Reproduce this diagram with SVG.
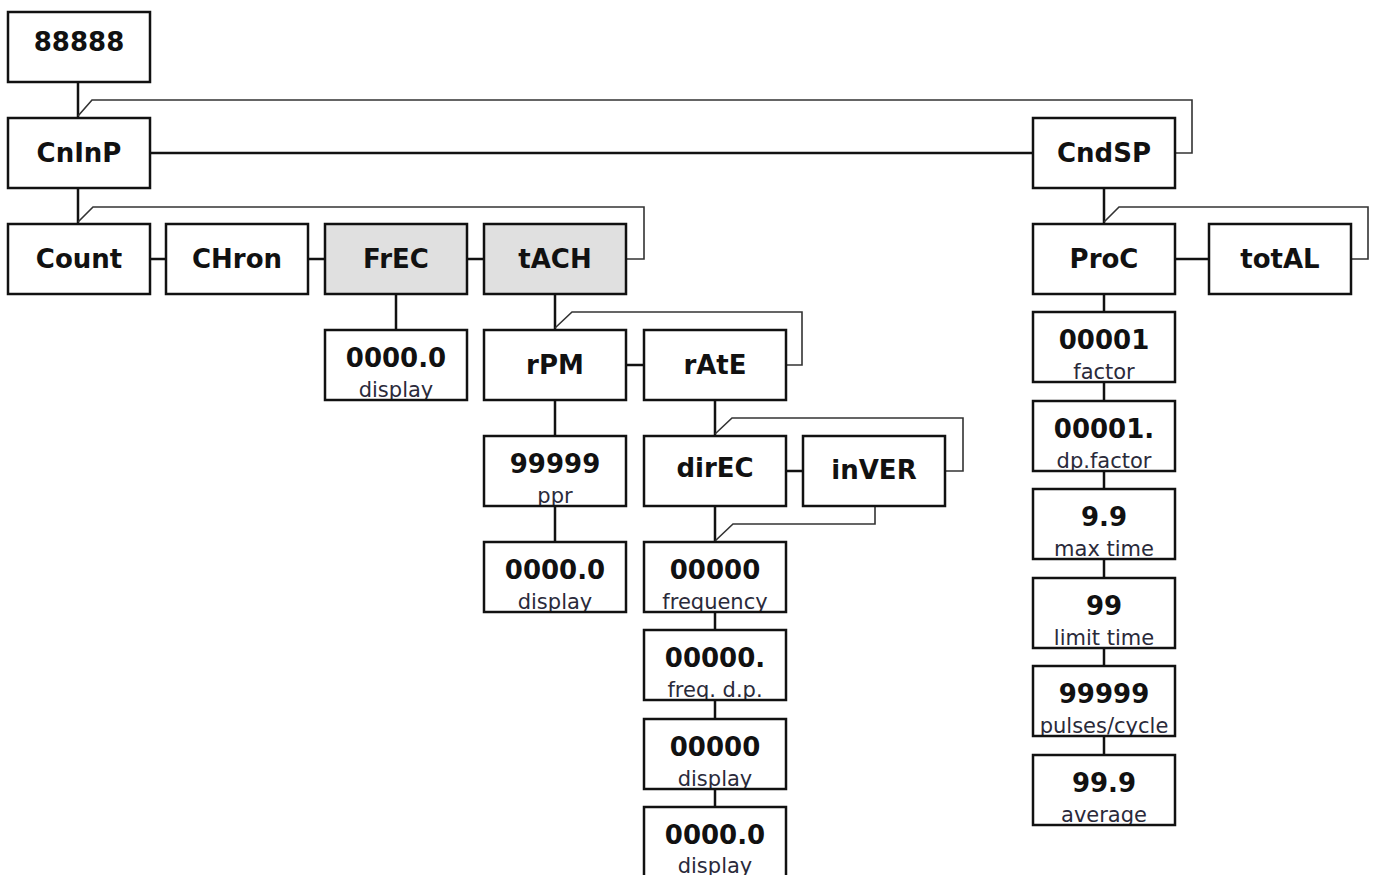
<svg xmlns="http://www.w3.org/2000/svg" width="1375" height="875" viewBox="0 0 1375 875">
<style>
.box{fill:#fff;stroke:#111;stroke-width:2.5}
.grey{fill:#e0e0e0}
.lbl{font-family:"DejaVu Sans",Verdana,sans-serif;font-weight:bold;font-size:26px;fill:#111;text-anchor:middle}
.sub{font-family:"DejaVu Sans",Verdana,sans-serif;font-size:21px;fill:#2a2a3a;text-anchor:middle}
.main{stroke:#111;stroke-width:2.5;fill:none}
.ret{stroke:#333;stroke-width:1.6;fill:none}
.frame{fill:none;stroke:#111;stroke-width:2.5}
</style>
<rect width="1375" height="875" fill="#fff"/>
<g id="connectors">
<path class="main" d="M78 82V118M150 153H1033M78 188V224M150 259H166M308 259H325M467 259H484M396 294V330M555 294V330M626 365H644M555 400V436M555 506V542M715 400V436M786 471H803M715 506V542M715 612V630M715 700V719M715 789V807M1104 188V224M1175 259H1209M1104 294V312M1104 382V401M1104 471V489M1104 559V578M1104 648V666M1104 736V755"/>
<path class="ret" d="M78 116L92 100H1192V153H1175"/>
<path class="ret" d="M78 222L93 207H644V259H626"/>
<path class="ret" d="M1104 222L1119 207H1368V259H1351"/>
<path class="ret" d="M555 328L572 312H802V365H786"/>
<path class="ret" d="M715 434L732 418H963V471H945"/>
<path class="ret" d="M875 506V524H733L715 541"/>
</g>
<g id="n88888"><rect class="box" x="8" y="12" width="142" height="70"/><text class="lbl" x="79" y="51">88888</text></g>
<g id="nCnInP"><rect class="box" x="8" y="118" width="142" height="70"/><text class="lbl" x="79" y="162">CnInP</text></g>
<g id="nCndSP"><rect class="box" x="1033" y="118" width="142" height="70"/><text class="lbl" x="1104" y="162">CndSP</text></g>
<g id="nCount"><rect class="box" x="8" y="224" width="142" height="70"/><text class="lbl" x="79" y="268">Count</text></g>
<g id="nCHron"><rect class="box" x="166" y="224" width="142" height="70"/><text class="lbl" x="237" y="268">CHron</text></g>
<g id="nFrEC"><rect class="box grey" x="325" y="224" width="142" height="70"/><text class="lbl" x="396" y="268">FrEC</text></g>
<g id="ntACH"><rect class="box grey" x="484" y="224" width="142" height="70"/><text class="lbl" x="555" y="268">tACH</text></g>
<g id="nProC"><rect class="box" x="1033" y="224" width="142" height="70"/><text class="lbl" x="1104" y="268">ProC</text></g>
<g id="ntotAL"><rect class="box" x="1209" y="224" width="142" height="70"/><text class="lbl" x="1280" y="268">totAL</text></g>
<g id="nrPM"><rect class="box" x="484" y="330" width="142" height="70"/><text class="lbl" x="555" y="374">rPM</text></g>
<g id="nrAtE"><rect class="box" x="644" y="330" width="142" height="70"/><text class="lbl" x="715" y="374">rAtE</text></g>
<g id="ndirEC"><rect class="box" x="644" y="436" width="142" height="70"/><text class="lbl" x="715" y="477">dirEC</text></g>
<g id="ninVER"><rect class="box" x="803" y="436" width="142" height="70"/><text class="lbl" x="874" y="479">inVER</text></g>

<g id="nFrecDisplay"><svg x="325" y="330" width="142" height="69"><text class="lbl" x="71" y="37">0000.0</text><text class="sub" x="71" y="67">display</text></svg><rect class="frame" x="325" y="330" width="142" height="70"/></g>
<g id="nPpr"><svg x="484" y="436" width="142" height="69"><text class="lbl" x="71" y="37">99999</text><text class="sub" x="71" y="67">ppr</text></svg><rect class="frame" x="484" y="436" width="142" height="70"/></g>
<g id="nRpmDisplay"><svg x="484" y="542" width="142" height="69"><text class="lbl" x="71" y="37">0000.0</text><text class="sub" x="71" y="67">display</text></svg><rect class="frame" x="484" y="542" width="142" height="70"/></g>
<g id="nFrequency"><svg x="644" y="542" width="142" height="69"><text class="lbl" x="71" y="37">00000</text><text class="sub" x="71" y="67">frequency</text></svg><rect class="frame" x="644" y="542" width="142" height="70"/></g>
<g id="nFreqDp"><svg x="644" y="630" width="142" height="69"><text class="lbl" x="71" y="37">00000.</text><text class="sub" x="71" y="67">freq. d.p.</text></svg><rect class="frame" x="644" y="630" width="142" height="70"/></g>
<g id="nRateDisplay1"><svg x="644" y="719" width="142" height="69"><text class="lbl" x="71" y="37">00000</text><text class="sub" x="71" y="67">display</text></svg><rect class="frame" x="644" y="719" width="142" height="70"/></g>
<g id="nRateDisplay2"><svg x="644" y="807" width="142" height="69"><text class="lbl" x="71" y="37">0000.0</text><text class="sub" x="71" y="66">display</text></svg><rect class="frame" x="644" y="807" width="142" height="70"/></g>

<g id="nFactor"><svg x="1033" y="312" width="142" height="69"><text class="lbl" x="71" y="37">00001</text><text class="sub" x="71" y="67">factor</text></svg><rect class="frame" x="1033" y="312" width="142" height="70"/></g>
<g id="nDpFactor"><svg x="1033" y="401" width="142" height="69"><text class="lbl" x="71" y="37">00001.</text><text class="sub" x="71" y="67">dp.factor</text></svg><rect class="frame" x="1033" y="401" width="142" height="70"/></g>
<g id="nMaxTime"><svg x="1033" y="489" width="142" height="69"><text class="lbl" x="71" y="37">9.9</text><text class="sub" x="71" y="67">max time</text></svg><rect class="frame" x="1033" y="489" width="142" height="70"/></g>
<g id="nLimitTime"><svg x="1033" y="578" width="142" height="69"><text class="lbl" x="71" y="37">99</text><text class="sub" x="71" y="67">limit time</text></svg><rect class="frame" x="1033" y="578" width="142" height="70"/></g>
<g id="nPulses"><svg x="1033" y="666" width="142" height="69"><text class="lbl" x="71" y="37">99999</text><text class="sub" x="71" y="67">pulses/cycle</text></svg><rect class="frame" x="1033" y="666" width="142" height="70"/></g>
<g id="nAverage"><svg x="1033" y="755" width="142" height="69"><text class="lbl" x="71" y="37">99.9</text><text class="sub" x="71" y="67">average</text></svg><rect class="frame" x="1033" y="755" width="142" height="70"/></g>
</svg>
